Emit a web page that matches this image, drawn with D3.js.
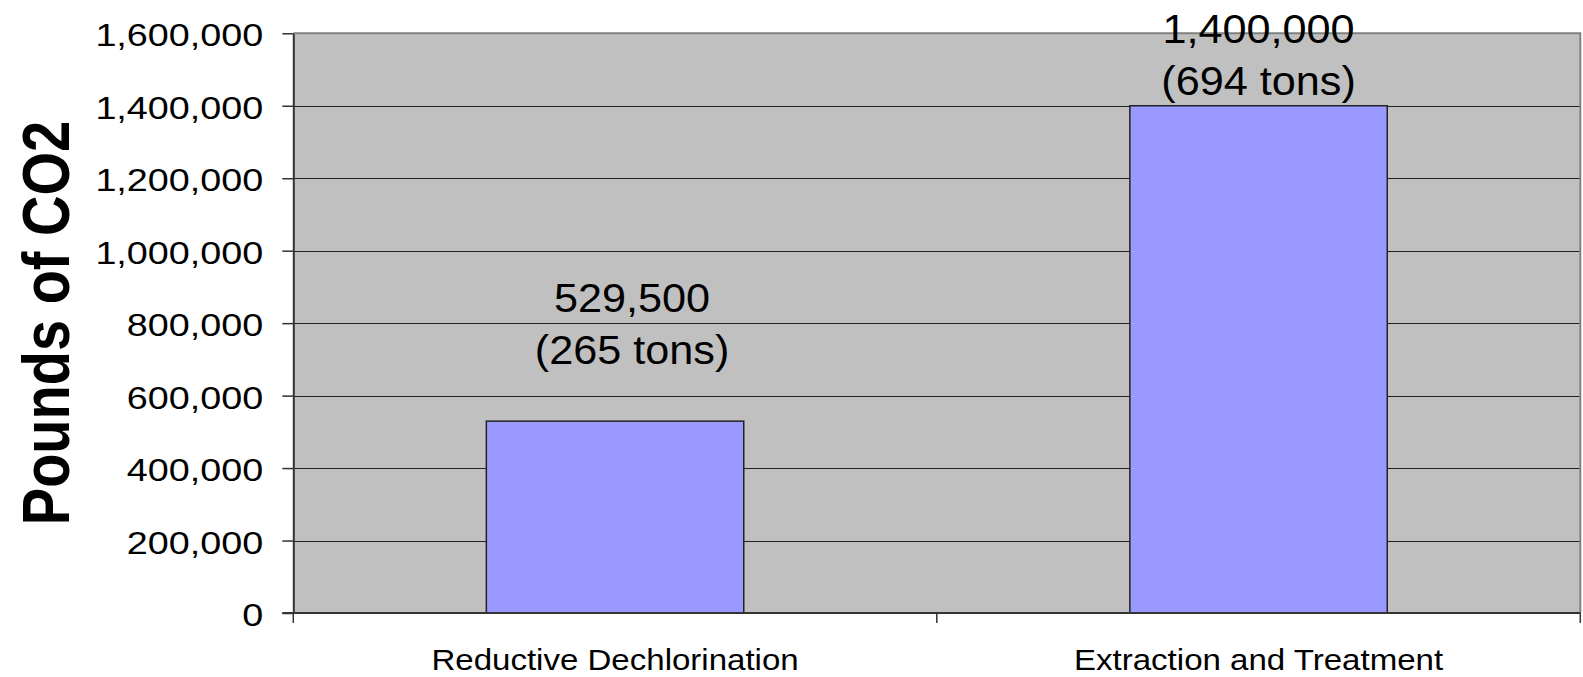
<!DOCTYPE html>
<html>
<head>
<meta charset="utf-8">
<script src="https://cdn.jsdelivr.net/npm/d3@7"></script>
<style>
  html, body { margin: 0; padding: 0; background: #fff; }
  svg { display: block; }
  text { font-family: "Liberation Sans", Arial, sans-serif; fill: #000; }
</style>
</head>
<body>
<svg id="chart" width="1583" height="677"></svg>
<script>
// Emissions by remediation approach
const categories = ["Reductive Dechlorination", "Extraction and Treatment"];
const poundsCO2 = [529500, 1400000];
const valueLabels = ["529,500", "1,400,000"];
const tonLabels = ["(265 tons)", "(694 tons)"];
const yTicks = [0, 200000, 400000, 600000, 800000, 1000000, 1200000, 1400000, 1600000];

const W = 1583, H = 677;
const plot = { left: 293.3, right: 1580.3, top: 33.3, bottom: 613 };

const svg = d3.select("#chart");

const x = d3.scaleBand().domain(categories).range([plot.left, plot.right]).padding(0);
const y = d3.scaleLinear().domain([0, 1600000]).range([plot.bottom, plot.top]);

// plot background
svg.append("rect")
  .attr("x", plot.left).attr("y", plot.top)
  .attr("width", plot.right - plot.left).attr("height", plot.bottom - plot.top)
  .attr("fill", "#c0c0c0");

// gridlines
svg.append("g").selectAll("line").data(yTicks.slice(1, -1)).join("line")
  .attr("x1", plot.left).attr("x2", plot.right)
  .attr("y1", d => Math.round(y(d)) + 0.5).attr("y2", d => Math.round(y(d)) + 0.5)
  .attr("stroke", "#222").attr("stroke-width", 1);

// top and right border of plot area
svg.append("path")
  .attr("d", `M${plot.left},${plot.top}H${plot.right}V${plot.bottom}`)
  .attr("fill", "none").attr("stroke", "#808080").attr("stroke-width", 2);

// bars
const barFrac = 0.4;
svg.append("g").selectAll("rect").data(categories).join("rect")
  .attr("x", d => x(d) + x.bandwidth() * (1 - barFrac) / 2)
  .attr("width", x.bandwidth() * barFrac)
  .attr("y", (d, i) => y(poundsCO2[i]))
  .attr("height", (d, i) => y(0) - y(poundsCO2[i]))
  .attr("fill", "#9999ff").attr("stroke", "#222").attr("stroke-width", 1.5);

// y axis
const tickScaleX = 1.18;
const yAxis = d3.axisLeft(y).tickValues(yTicks).tickFormat(d3.format(",")).tickSize(11).tickSizeOuter(0);
const gy = svg.append("g").attr("transform", `translate(${plot.left},0)`).call(yAxis);
gy.select(".domain").attr("stroke", "#333").attr("stroke-width", 2);
gy.selectAll(".tick line").attr("stroke", "#333").attr("stroke-width", 1.5);
gy.selectAll(".tick text")
  .attr("x", 0).attr("dy", null)
  .attr("transform", `translate(-30,12.5) scale(${tickScaleX},1)`)
  .style("font-size", "32px").attr("fill", "#000");

// x axis: ticks at band boundaries
const gx = svg.append("g");
gx.append("line")
  .attr("x1", plot.left - 11).attr("x2", plot.right)
  .attr("y1", plot.bottom).attr("y2", plot.bottom)
  .attr("stroke", "#333").attr("stroke-width", 2);
const bounds = categories.map(c => x(c)).concat([plot.right]);
gx.selectAll("line.b").data(bounds).join("line").attr("class", "b")
  .attr("x1", d => d).attr("x2", d => d)
  .attr("y1", plot.bottom).attr("y2", plot.bottom + 10)
  .attr("stroke", "#333").attr("stroke-width", 1.5);
gx.selectAll("text").data(categories).join("text")
  .attr("transform", d => `translate(${x(d) + x.bandwidth() / 2},670) scale(1.14,1)`)
  .attr("text-anchor", "middle")
  .style("font-size", "29px")
  .text(d => d);

// value labels above bars
const labelShift = [{ dx: 17, dy: -57 }, { dx: 0, dy: -11 }];
const lineGap = 52;
const valScaleX = 1.08;
const lbl = svg.append("g").selectAll("g").data(categories).join("g")
  .attr("transform", (d, i) =>
    `translate(${x(d) + x.bandwidth() / 2 + labelShift[i].dx},${y(poundsCO2[i]) + labelShift[i].dy})`);
lbl.append("text")
  .attr("transform", `translate(0,${-lineGap}) scale(${valScaleX},1)`)
  .attr("text-anchor", "middle").style("font-size", "40px")
  .text((d, i) => valueLabels[i]);
lbl.append("text")
  .attr("transform", `scale(${valScaleX},1)`)
  .attr("text-anchor", "middle").style("font-size", "40px")
  .text((d, i) => tonLabels[i]);

// y axis title
svg.append("text")
  .attr("transform", "translate(69,323) scale(1.2,1) rotate(-90)")
  .attr("text-anchor", "middle")
  .style("font-size", "56px").style("font-weight", "bold")
  .text("Pounds of CO2");
</script>
</body>
</html>
